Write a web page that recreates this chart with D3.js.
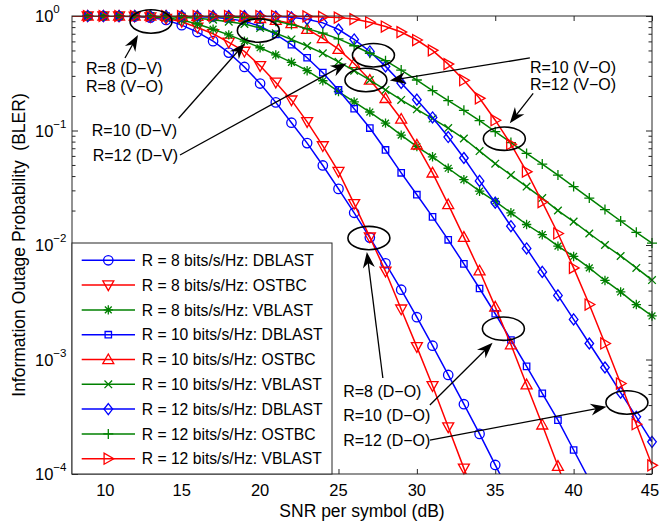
<!DOCTYPE html>
<html><head><meta charset="utf-8">
<script src="https://cdn.jsdelivr.net/npm/d3@7"></script>
<style>body{margin:0;background:#fff}svg{display:block}text{font-family:"Liberation Sans",Arial,sans-serif;fill:#000}</style>
</head><body><svg id="c" width="660" height="525"></svg>
<script>
// ---------------- data ----------------
const snr = [8,9,10,11,12,13,14,15,16,17,18,19,20,21,22,23,24,25,26,27,28,29,30,31,32,33,34,35,36,37,38,39,40,41,42,43,44,45];

const r8Dblast = [1,0.9998,0.999,0.9966,0.989,0.968,0.923,0.832,0.724,0.603,0.479,0.359,0.257,0.176,0.117,0.0776,0.0495,0.0309,0.0191,0.0116,0.00692,0.00407,0.00234,0.00132,0.000733,0.000407,0.000224,0.000120,0.0000646,null,null,null,null,null,null,null,null,null];
const r8Ostbc = [1,0.9998,0.9993,0.998,0.993,0.979,0.951,0.891,0.794,0.700,0.589,0.490,0.367,0.263,0.184,0.119,0.0733,0.0437,0.0229,0.0117,0.00589,0.00275,0.00129,0.000589,0.000257,0.000112,0.0000501,null,null,null,null,null,null,null,null,null,null,null];
const r8Vblast = [1,0.9998,0.9995,0.998,0.995,0.986,0.966,0.923,0.851,0.767,0.684,0.603,0.528,0.457,0.394,0.333,0.272,0.219,0.178,0.145,0.116,0.0912,0.0724,0.0589,0.0468,0.0372,0.0295,0.0240,0.0191,0.0151,0.0123,0.00977,0.00794,0.00631,0.00490,0.00389,0.00302,0.00240];
const r10Dblast = [1,0.9999,0.9998,0.9995,0.999,0.998,0.996,0.993,0.986,0.973,0.944,0.902,0.813,0.692,0.562,0.432,0.320,0.226,0.155,0.105,0.0676,0.0427,0.0275,0.0176,0.0111,0.00684,0.00417,0.00251,0.00148,0.000871,0.000507,0.000295,0.000162,0.0000891,null,null,null,null];
const r10Ostbc = [1,0.9999,0.9999,0.9998,0.9997,0.9995,0.999,0.9985,0.998,0.995,0.989,0.977,0.955,0.918,0.861,0.767,0.638,0.513,0.385,0.276,0.191,0.126,0.0750,0.0427,0.0226,0.0117,0.00596,0.00288,0.00135,0.000603,0.000269,0.000117,0.0000501,null,null,null,null,null];
const r10Vblast = [1,0.9999,0.9998,0.9995,0.998,0.993,0.986,0.973,0.955,0.927,0.891,0.851,0.785,0.708,0.624,0.547,0.472,0.398,0.333,0.276,0.226,0.185,0.153,0.127,0.105,0.0851,0.0661,0.0513,0.0408,0.0324,0.0257,0.0200,0.0160,0.0126,0.0100,0.00802,0.00631,0.00494];
const r12Dblast = [1,1,1,1,1,0.9999,0.9998,0.9996,0.9993,0.999,0.9985,0.998,0.995,0.989,0.973,0.938,0.871,0.762,0.624,0.490,0.363,0.260,0.186,0.130,0.0877,0.0575,0.0363,0.0234,0.0146,0.00933,0.00582,0.00363,0.00224,0.00138,0.000851,0.000513,0.000316,0.000191];
const r12Ostbc = [1,1,0.9999,0.9998,0.9996,0.9993,0.999,0.9965,0.993,0.989,0.979,0.966,0.944,0.902,0.841,0.776,0.708,0.631,0.550,0.473,0.407,0.337,0.276,0.223,0.182,0.150,0.122,0.0977,0.0785,0.0631,0.0509,0.0408,0.0324,0.0257,0.0204,0.0162,0.0129,0.0104];
const r12Vblast = [1,1,1,1,1,1,1,1,1,0.9999,0.9998,0.9995,0.999,0.998,0.995,0.991,0.982,0.968,0.940,0.881,0.809,0.724,0.617,0.501,0.380,0.275,0.191,0.123,0.0759,0.0437,0.0237,0.0126,0.00631,0.00302,0.00138,0.000617,0.000272,0.000119];

const legendLabels = ["R = 8 bits/s/Hz: DBLAST","R = 8 bits/s/Hz: OSTBC","R = 8 bits/s/Hz: VBLAST",
  "R = 10 bits/s/Hz: DBLAST","R = 10 bits/s/Hz: OSTBC","R = 10 bits/s/Hz: VBLAST",
  "R = 12 bits/s/Hz: DBLAST","R = 12 bits/s/Hz: OSTBC","R = 12 bits/s/Hz: VBLAST"];
const xTicks = [10,15,20,25,30,35,40,45];
const yTicks = [1e-4,1e-3,1e-2,1e-1,1];
const yTickExp = ["\u22124","\u22123","\u22122","\u22121","0"];

// annotations in data units [snr, BLER]
const ellipses = [[13.04,0.895],[19.89,0.747],[27.23,0.454],[26.75,0.276],[35.58,0.0848],[26.94,0.0115],[35.52,0.00186],[43.4,0.000421]];
const notes = [
  {t:"R=8 (D\u2212V)", p:[8.89,0.311]},
  {t:"R=8 (V\u2212O)", p:[8.89,0.217]},
  {t:"R=10 (D\u2212V)", p:[9.26,0.0895]},
  {t:"R=12 (D\u2212V)", p:[9.32,0.0542]},
  {t:"R=10 (V\u2212O)", p:[37.21,0.321]},
  {t:"R=12 (V\u2212O)", p:[37.21,0.226]},
  {t:"R=8 (D\u2212O)", p:[25.3,0.000470]},
  {t:"R=10 (D\u2212O)", p:[25.3,0.000290]},
  {t:"R=12 (D\u2212O)", p:[25.3,0.000176]}
];
const arrows = [
  [[11.38,0.430],[12.21,0.682]],
  [[14.80,0.128],[19.03,0.578]],
  [[14.89,0.0611],[25.52,0.386]],
  [[37.21,0.430],[28.28,0.273]],
  [[37.42,0.211],[35.93,0.1156]],
  [[27.83,0.000689],[26.81,0.00869]],
  [[30.83,0.000400],[34.83,0.00140]],
  [[30.83,0.000198],[42.1,0.000387]]
];

// ---------------- styles ----------------
const BLUE="#0000ff", RED="#ff0000", GREEN="#008000";
const series = [
  {v:r8Dblast, c:BLUE, m:"circle"},
  {v:r8Ostbc, c:RED, m:"triDown"},
  {v:r8Vblast, c:GREEN, m:"asterisk"},
  {v:r10Dblast, c:BLUE, m:"square"},
  {v:r10Ostbc, c:RED, m:"triUp"},
  {v:r10Vblast, c:GREEN, m:"x"},
  {v:r12Dblast, c:BLUE, m:"diamond"},
  {v:r12Ostbc, c:GREEN, m:"plus"},
  {v:r12Vblast, c:RED, m:"triRight"}
];
const markerPath = {
  circle:"M-4.7,0A4.7,4.7 0 1,0 4.7,0A4.7,4.7 0 1,0 -4.7,0Z",
  triDown:"M-5.5,-4.2L5.5,-4.2L0,5.5Z",
  triUp:"M-5.5,4.2L5.5,4.2L0,-5.5Z",
  triRight:"M-4.2,-5.5L-4.2,5.5L5.5,0Z",
  square:"M-3.2,-3.2H3.2V3.2H-3.2Z",
  diamond:"M0,-5.5L4.3,0L0,5.5L-4.3,0Z",
  x:"M-3.8,-3.8L3.8,3.8M-3.8,3.8L3.8,-3.8",
  plus:"M-5,0H5M0,-5V5",
  asterisk:"M-4.7,0H4.7M0,-4.7V4.7M-3.4,-3.4L3.4,3.4M-3.4,3.4L3.4,-3.4"
};

const L=72,R=652,T=16,B=474;
const svg=d3.select("#c");
const x=d3.scaleLinear().domain([8,45]).range([L,R]);
const y=d3.scaleLog().domain([1e-4,1]).range([B,T]);
const AX="#262626";

svg.append("rect").attr("width",660).attr("height",525).attr("fill","#fff");
svg.append("defs").append("clipPath").attr("id","clip").append("rect")
  .attr("x",L).attr("y",T).attr("width",R-L).attr("height",B-T);

// ticks
const minor=[];
for(let k=-4;k<0;k++) for(let m=2;m<=9;m++) minor.push(m*Math.pow(10,k));
function tickAxis(ax,tr){ const g=svg.append("g").attr("transform",tr).call(ax); g.select(".domain").remove(); g.selectAll("line").attr("stroke",AX); g.selectAll("text").remove(); return g;}
tickAxis(d3.axisBottom(x).tickValues(xTicks).tickSizeInner(-5).tickSizeOuter(0),`translate(0,${B})`);
tickAxis(d3.axisTop(x).tickValues(xTicks).tickSizeInner(-5).tickSizeOuter(0),`translate(0,${T})`);
tickAxis(d3.axisLeft(y).tickValues(yTicks).tickSizeInner(-6).tickSizeOuter(0),`translate(${L},0)`);
tickAxis(d3.axisRight(y).tickValues(yTicks).tickSizeInner(-6).tickSizeOuter(0),`translate(${R},0)`);
tickAxis(d3.axisLeft(y).tickValues(minor).tickSizeInner(-3.5).tickSizeOuter(0),`translate(${L},0)`);
tickAxis(d3.axisRight(y).tickValues(minor).tickSizeInner(-3.5).tickSizeOuter(0),`translate(${R},0)`);

// x tick labels
svg.append("g").selectAll("text").data(xTicks).join("text")
  .attr("x",(d,i)=>x(d)+(i===0?2:(i===xTicks.length-1?-2:0))).attr("y",496).attr("text-anchor","middle").attr("font-size",16.5).text(d=>d);
// y tick labels
const yl=svg.append("g").selectAll("text").data(yTicks).join("text")
  .attr("x",35).attr("y",d=>y(d)+6).attr("font-size",16.5);
yl.append("tspan").text("10");
yl.append("tspan").attr("dy",-9).attr("font-size",11.5).text((d,i)=>yTickExp[i]);

// axis titles
svg.append("text").attr("x",(L+R)/2).attr("y",517).attr("text-anchor","middle").attr("font-size",17.5).text("SNR per symbol (dB)");
svg.append("text").attr("transform",`translate(25,${(T+B)/2}) rotate(-90)`).attr("text-anchor","middle").attr("font-size",17.5)
  .attr("xml:space","preserve").style("white-space","pre").text("Information Outage Probability  (BLER)");

// curves
const plot=svg.append("g");
const line=d3.line().defined(d=>d[1]!=null).x(d=>x(d[0])).y(d=>y(d[1]));
series.forEach(s=>{
  const pts=snr.map((t,i)=>[t,s.v[i]]);
  plot.append("path").attr("clip-path","url(#clip)").attr("d",line(pts))
    .attr("fill","none").attr("stroke",s.c).attr("stroke-width",1.5);
  plot.append("g").selectAll("path").data(pts.filter(p=>p[0]>=9 && p[1]!=null && p[1]>=1e-4)).join("path")
    .attr("transform",p=>`translate(${x(p[0])},${y(p[1])})`).attr("d",markerPath[s.m])
    .attr("fill","none").attr("stroke",s.c).attr("stroke-width",1.3);
});

// box
svg.append("rect").attr("x",L).attr("y",T).attr("width",R-L).attr("height",B-T).attr("fill","none").attr("stroke",AX).attr("stroke-width",1);

// annotations
const ann=svg.append("g");
ellipses.forEach(e=>{
  ann.append("ellipse").attr("cx",x(e[0])).attr("cy",y(e[1])).attr("rx",21).attr("ry",11.7)
    .attr("fill","none").attr("stroke","#000").attr("stroke-width",1.6);
});
arrows.forEach(a=>{
  const x0=x(a[0][0]),y0=y(a[0][1]),x1=x(a[1][0]),y1=y(a[1][1]);
  const ang=Math.atan2(y1-y0,x1-x0), deg=ang*180/Math.PI;
  ann.append("line").attr("x1",x0).attr("y1",y0).attr("x2",x1-10*Math.cos(ang)).attr("y2",y1-10*Math.sin(ang))
    .attr("stroke","#000").attr("stroke-width",1.3);
  ann.append("path").attr("d","M0,0L-16,-6L-11,0L-16,6Z").attr("transform",`translate(${x1},${y1}) rotate(${deg})`).attr("fill","#000");
});
ann.selectAll("text").data(notes).join("text").attr("x",d=>x(d.p[0])).attr("y",d=>y(d.p[1]))
  .attr("font-size",16).text(d=>d.t);

// legend
const lg=svg.append("g");
lg.append("rect").attr("x",L).attr("y",243).attr("width",260).attr("height",B-243).attr("fill","#fff").attr("stroke",AX).attr("stroke-width",1);
series.forEach((s,i)=>{
  const cy=260.3+i*24.8;
  lg.append("line").attr("x1",81.7).attr("x2",135).attr("y1",cy).attr("y2",cy).attr("stroke",s.c).attr("stroke-width",1.5);
  lg.append("path").attr("transform",`translate(108.3,${cy})`).attr("d",markerPath[s.m]).attr("fill","none").attr("stroke",s.c).attr("stroke-width",1.3);
  lg.append("text").attr("x",141.7).attr("y",cy+5.6).attr("font-size",15.7).text(legendLabels[i]);
});
</script></body></html>
